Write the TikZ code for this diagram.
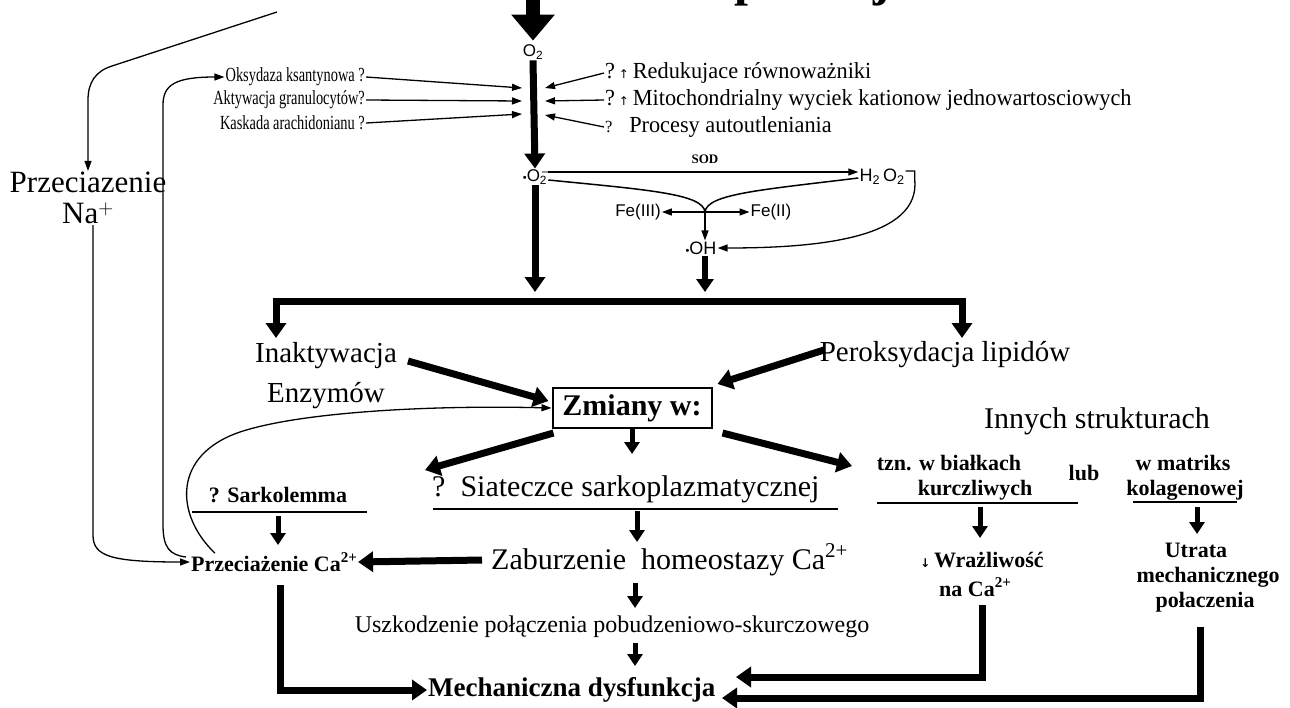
\documentclass[tikz,border=0pt]{standalone}
\usepackage{fontspec}
\setmainfont{Liberation Serif}
\newfontfamily\sansf{Liberation Sans}
\newfontfamily\condl[FakeStretch=0.72]{Liberation Serif}
\newfontfamily\condr[FakeStretch=0.97]{Liberation Serif}
\newfontfamily\arrf{DejaVu Sans}
\usetikzlibrary{arrows.meta}
\newcommand{\myfs}[1]{\fontsize{#1}{#1}\selectfont}
\begin{document}
\begin{tikzpicture}[x=1pt,y=-1pt,
  every node/.style={inner sep=1pt},
  big/.style={font=\myfs{30}},
  lsm/.style={font=\condl\myfs{20}},
  rsm/.style={font=\condr\myfs{23}},
  bsm/.style={font=\bfseries\myfs{22}},
  chem/.style={font=\sansf\myfs{17}},
  tarr/.style={line width=7pt,-{Triangle[width=20pt,length=15pt]}},
  marr/.style={line width=5pt,-{Triangle[width=15pt,length=12pt]}},
  narr/.style={line width=1.3pt,-{Triangle[width=7pt,length=10pt]}},
  uline/.style={line width=2pt}]
\useasboundingbox (0,0) rectangle (1290,707);
\fill[white] (0,0) rectangle (1290,707);
% cut-off title
\node[anchor=base west, font=\bfseries\myfs{50}, inner sep=0pt] (title) at (676,-5) {Reperfuzja};
% column top
\node[chem] (o2) at (533,52) {O\textsubscript{2}};
\coordinate (topa) at (533,0);
\draw[line width=14pt,-{Triangle[width=42pt,length=26pt]}] (topa) -- ([yshift=3pt]o2.north);
\node[chem] (o2m) at (535,177) {{\myfs{11}•}O\rlap{\textsuperscript{\,–}}\textsubscript{2}};
\draw[tarr] (o2.south) -- (o2m.north);
% left sources
\node[lsm, anchor=east] (oks) at (366,77) {Oksydaza ksantynowa ?};
\node[lsm, anchor=east] (akt) at (366,100) {Aktywacja granulocytów?};
\node[lsm, anchor=east] (kas) at (366,123) {Kaskada arachidonianu ?};
\coordinate (l1) at (522,88); \coordinate (l2) at (522,101); \coordinate (l3) at (522,114);
\draw[narr] (oks.east) -- (l1);
\draw[narr] (akt.east) -- (l2);
\draw[narr] (kas.east) -- (l3);
% right sources
\node[rsm, anchor=west] (red) at (604,73) {?\,{\arrf\myfs{12}↑}\,Redukujace równoważniki};
\node[rsm, anchor=west] (mit) at (604,100) {?\,{\arrf\myfs{12}↑}\,Mitochondrialny wyciek kationow jednowartosciowych};
\node[rsm, anchor=west] (pro) at (604,127) {{\myfs{17}?}\ \ \ Procesy autoutleniania};
\coordinate (r1) at (545,88); \coordinate (r2) at (545,101); \coordinate (r3) at (545,115);
\draw[narr] (red.west) -- (r1);
\draw[narr] (mit.west) -- (r2);
\draw[narr] (pro.west) -- (r3);
% chemistry
\node[chem, font=\sansf\myfs{18}] (h2o2) at (882,177) {H\textsubscript{2}\,O\textsubscript{2}};
\node[font=\bfseries\myfs{13}] (sod) at (705,159) {SOD};
\draw[narr] ([yshift=5pt]o2m.east) -- ([yshift=5pt]h2o2.west);
\coordinate (jn) at (705,212);
\draw[line width=1.5pt] ([yshift=-3pt]o2m.east) .. controls (650,190) and (703,194) .. (jn);
\draw[line width=1.5pt] ([yshift=-1pt]h2o2.west) .. controls (760,190) and (707,194) .. (jn);
\node[chem] (fe3) at (638,212) {Fe(III)};
\node[chem] (fe2) at (771,212) {Fe(II)};
\node[chem, font=\sansf\myfs{18}] (oh) at (701,248) {{\myfs{11}•}OH};
\draw[narr] (jn) -- (fe3.east);
\draw[narr] (jn) -- (fe2.west);
\draw[narr] (jn) -- (jn |- oh.north);
\draw[narr] ([yshift=6pt]h2o2.east) -- ++(9,0) -- ++(0,8) .. controls (921,238) and (820,248) .. (oh.east);
% arrows to bar
\coordinate (b1) at (535,292); \coordinate (b2) at (705,292);
\draw[tarr] (o2m.south) -- (b1);
\draw[line width=6pt,-{Triangle[width=17pt,length=13pt]}] (b2 |- oh.south) -- (b2);
\draw[line width=7pt] (272.5,301) -- (965.5,301);
% second level
\node[align=center, font=\myfs{29}] (inak) at (326,376) {Inaktywacja\\[11pt]Enzymów};
\node[font=\myfs{29}] (perox) at (945,355) {Peroksydacja lipidów};
\draw[tarr] (276,298) -- (276,338);
\draw[tarr] (962,298) -- (962,338);
\node[draw, line width=2pt, font=\bfseries\myfs{30}, minimum width=159pt, minimum height=40pt] (zm) at (632,408) {Zmiany w:};
\draw[tarr] (408,361) -- ([xshift=-3pt,yshift=7pt]zm.west);
\draw[tarr] (824,350) -- ([xshift=5pt,yshift=3pt]zm.north east);
\coordinate (sia) at (425,470);
\coordinate (tzq) at (852,466);
\draw[tarr] ([xshift=2pt,yshift=-4pt]zm.south west) -- (sia);
\draw[tarr] ([xshift=10pt,yshift=-4pt]zm.south east) -- (tzq);
\draw[marr] (zm.south) -- ++(0,25);
\node[big] (inn) at (1097,421) {Innych strukturach};
% lower middle
\node[big, anchor=west] (siat) at (431,489) {?\ \ Siateczce sarkoplazmatycznej};
\draw[uline] (433,509) -- (838,509);
\draw[marr] (637,511) -- (637,542);
\node[big, anchor=west] (zab) at (490,560) {Zaburzenie\ \ homeostazy Ca\raisebox{12pt}{\myfs{21}2+}};
\node[bsm] (sark) at (278,495) {? Sarkolemma};
\draw[uline] (192,512) -- (367,512);
\draw[marr] (278,516) -- (278,545);
\node[bsm, anchor=west] (cap) at (190,562) {Przeciażenie Ca\raisebox{9pt}{\myfs{15}2+}};
\draw[tarr] ([xshift=-8pt]zab.west) -- (cap.east);
\draw[marr] (635,583) -- (635,608);
\node[font=\myfs{24}] (usz) at (612,627) {Uszkodzenie połączenia pobudzeniowo-skurczowego};
\draw[marr] (635,643) -- (635,666);
\node[anchor=west, font=\bfseries\myfs{27}] (mech) at (427,690) {Mechaniczna dysfunkcja};
\draw[tarr] (280,585) |- (mech.west);
% right lower
\node[bsm] (tzn) at (949,463) {tzn. w białkach};
\node[bsm] (kur) at (975,490) {kurczliwych};
\node[bsm] (lub) at (1084,473) {lub};
\draw[uline] (877,503) -- (1078,503);
\node[bsm] (wma) at (1183,463) {w matriks};
\node[bsm] (kol) at (1185,490) {kolagenowej};
\draw[uline] (1133,502) -- (1237,502);
\draw[marr] (980,507) -- (980,538);
\draw[marr] (1197,507) -- (1197,534);
\node[bsm] (wra) at (982,560) {{\arrf\myfs{12}↓}\,Wrażliwość};
\node[bsm] (nac) at (975,587) {na Ca\raisebox{9pt}{\myfs{15}2+}};
\node[bsm] (utr) at (1196,550) {Utrata};
\node[bsm] (mec) at (1208,577) {mechanicznego};
\node[bsm] (pol) at (1205,602) {połaczenia};
\coordinate (e1) at (736,677); \coordinate (e2) at (722,698);
\draw[tarr] (982,605) |- (e1);
\draw[tarr] (1200,627) |- (e2);
% left feedback lines
\node[align=center, font=\fontsize{31}{31}\selectfont] (nap) at (88,198) {Przeciazenie\\Na$^{+}$};
\draw[narr] (277,12) -- (112,66) .. controls (96,71) and (88,82) .. (88,100) -- (nap.north);
\draw[narr] ([xshift=5pt]nap.south) -- (93,535) .. controls (93,556) and (110,562) .. (cap.west);
\draw[narr] ([xshift=-4pt,yshift=5pt]cap.west) .. controls (170,555) and (163,548) .. (163,525) -- (163,105) .. controls (163,85) and (175,77) .. (oks.west);
\draw[narr] ([xshift=25pt,yshift=-2pt]cap.north west) .. controls (175,515) and (172,455) .. (240,432) .. controls (300,412) and (430,405) .. (zm.west);
\end{tikzpicture}
\end{document}
